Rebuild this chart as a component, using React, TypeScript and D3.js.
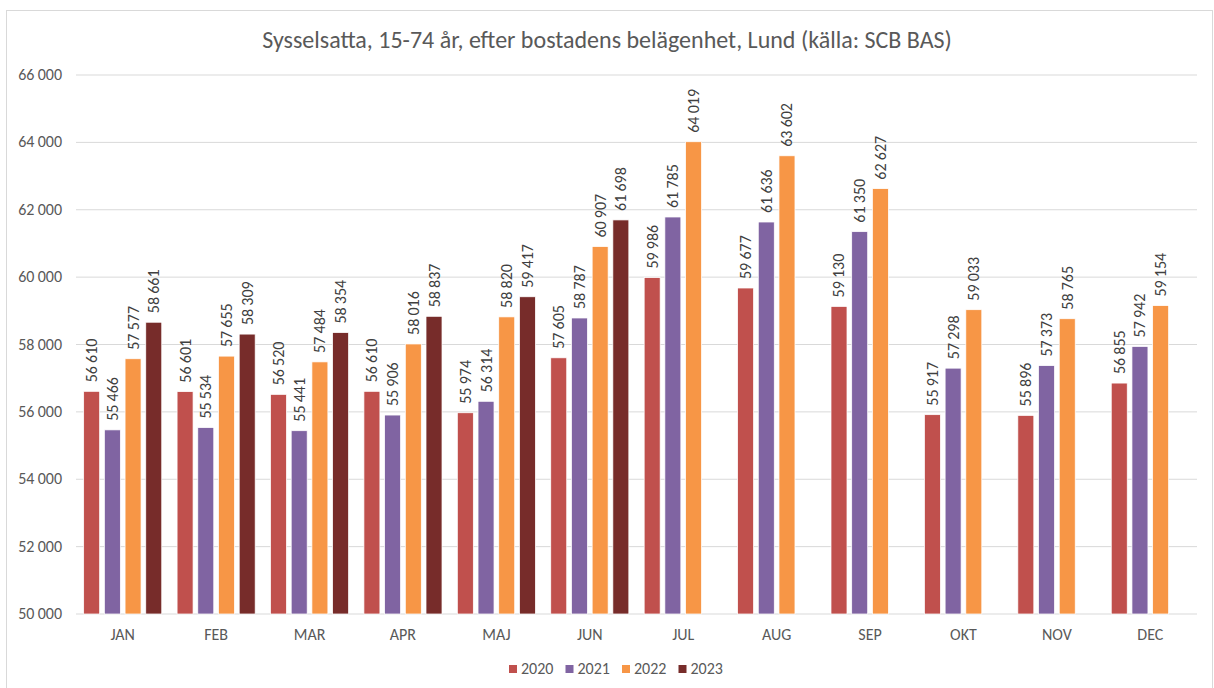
import React from "react";
import * as d3 from "d3";

const months = ["JAN", "FEB", "MAR", "APR", "MAJ", "JUN", "JUL", "AUG", "SEP", "OKT", "NOV", "DEC"];
const seriesNames = ["2020", "2021", "2022", "2023"];
const v2020 = [56610, 56601, 56520, 56610, 55974, 57605, 59986, 59677, 59130, 55917, 55896, 56855];
const v2021 = [55466, 55534, 55441, 55906, 56314, 58787, 61785, 61636, 61350, 57298, 57373, 57942];
const v2022 = [57577, 57655, 57484, 58016, 58820, 60907, 64019, 63602, 62627, 59033, 58765, 59154];
const v2023 = [58661, 58309, 58354, 58837, 59417, 61698, null, null, null, null, null, null];
const yTicks = [50000, 52000, 54000, 56000, 58000, 60000, 62000, 64000, 66000];
const colors = ["#C0504D", "#8064A2", "#F79646", "#772C2A"];
const title = "Sysselsatta, 15-74 år, efter bostadens belägenhet, Lund (källa: SCB BAS)";

const W = 1214, H = 688;
const left = 76, right = 1197, top = 75, bottom = 614;
const font = "Carlito, Calibri, Lato, sans-serif";

const fmt = (v: number) => {
  const s = String(v);
  return s.slice(0, s.length - 3) + "\u2009" + s.slice(s.length - 3);
};

export default function App() {
  const all = [v2020, v2021, v2022, v2023];
  const x = d3.scaleBand<string>().domain(months).range([left, right]).paddingInner(0).paddingOuter(0);
  const y = d3.scaleLinear().domain([50000, 66000]).range([bottom, top]);
  const inner = d3.scaleBand<string>().domain(seriesNames).range([0, x.bandwidth()]).paddingInner(0.227).paddingOuter(0.37);

  return (
    <svg width={W} height={H} style={{ position: "absolute", left: 0, top: 0, background: "#fff" }}>
      <rect x={6.5} y={10.5} width={1206} height={690} fill="#fff" stroke="#D9D9D9" strokeWidth={1} />
      <text x={607} y={47.5} textAnchor="middle" fontFamily={font} fontSize={24} fill="#595959">{title}</text>
      {yTicks.map((t) => (
        <g key={t}>
          <line x1={left} x2={right} y1={y(t)} y2={y(t)} stroke="#D9D9D9" strokeWidth={1} />
          <text x={62} y={y(t) + 5} textAnchor="end" fontFamily={font} fontSize={16} fill="#595959">{fmt(t)}</text>
        </g>
      ))}
      {months.map((m, i) => (
        <g key={m}>
          {all.map((s, k) => {
            const v = s[i];
            if (v == null) return null;
            const bx = (x(m) as number) + (inner(seriesNames[k]) as number);
            const bw = inner.bandwidth();
            const cx = bx + bw / 2;
            const ty = y(v) - 9;
            return (
              <g key={k}>
                <rect x={bx} y={y(v)} width={bw} height={bottom - y(v)} fill={colors[k]} stroke="#fff" strokeWidth={0.75} />
                <text transform={`translate(${cx + 5.5},${ty}) rotate(-90)`} fontFamily={font} fontSize={16} fill="#404040">{fmt(v)}</text>
              </g>
            );
          })}
          <text x={(x(m) as number) + x.bandwidth() / 2} y={640} textAnchor="middle" fontFamily={font} fontSize={16} fill="#595959">{m}</text>
        </g>
      ))}
      {seriesNames.map((n, k) => {
        const lx = 509 + k * 56.5;
        return (
          <g key={n}>
            <rect x={lx} y={665} width={8} height={8} fill={colors[k]} />
            <text x={lx + 12} y={674} fontFamily={font} fontSize={16} fill="#595959">{n}</text>
          </g>
        );
      })}
    </svg>
  );
}
